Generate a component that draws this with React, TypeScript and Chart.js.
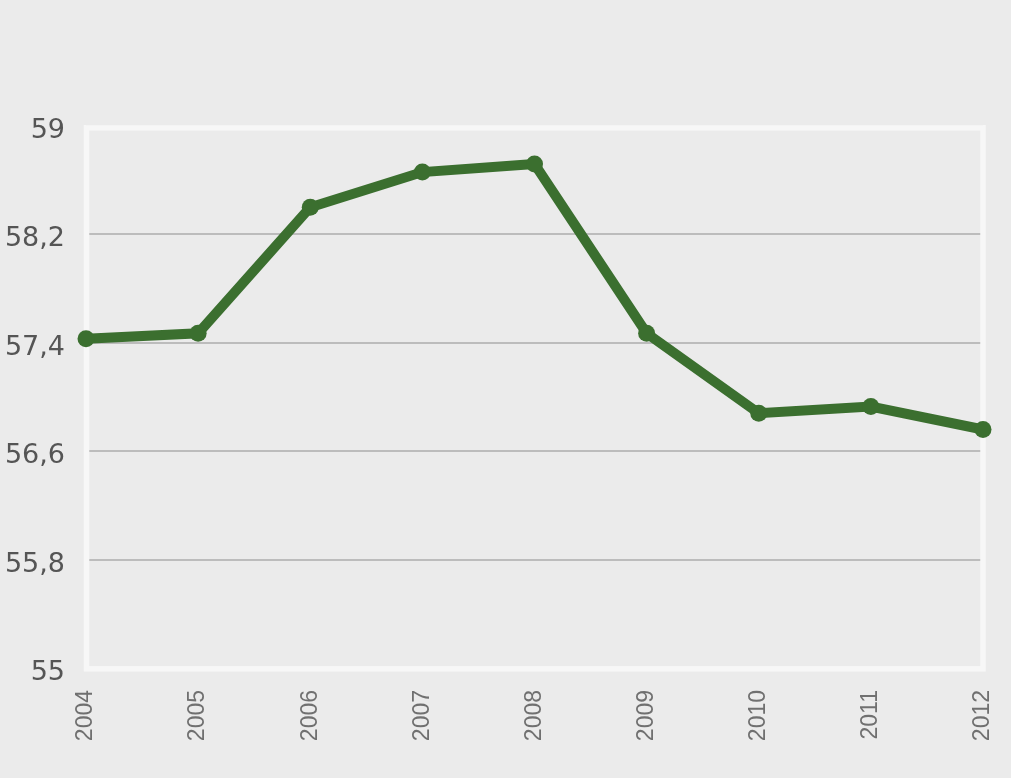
import React, { useEffect, useRef } from "react";
import { Chart, registerables } from "chart.js";

Chart.register(...registerables);

const years = ["2004", "2005", "2006", "2007", "2008", "2009", "2010", "2011", "2012"];
const values = [57.43, 57.47, 58.4, 58.66, 58.72, 57.47, 56.88, 56.93, 56.76];
const yTicks = [55, 55.8, 56.6, 57.4, 58.2, 59];

const BG = "#ebebeb";
const LINE = "#3b6f2f";

const bgPlugin = {
  id: "bgFrame",
  beforeDraw(chart: any) {
    const { ctx, width, height } = chart;
    ctx.save();
    ctx.fillStyle = BG;
    ctx.fillRect(0, 0, width, height);
    ctx.restore();
  },
  beforeDatasetsDraw(chart: any) {
    const { ctx, chartArea: ca } = chart;
    ctx.save();
    ctx.strokeStyle = "#f7f7f7";
    ctx.lineWidth = 5.5;
    const l = ca.left + 0.5;
    const t = ca.top + 1.8;
    const r = ca.right;
    const b = ca.bottom + 0.8;
    ctx.strokeRect(l, t, r - l, b - t);
    ctx.restore();
  },
};

export default function App() {
  const ref = useRef<HTMLCanvasElement>(null);
  useEffect(() => {
    if (!ref.current) return;
    const chart = new Chart(ref.current, {
      type: "line",
      data: {
        labels: years,
        datasets: [
          {
            data: values,
            borderColor: LINE,
            backgroundColor: LINE,
            borderWidth: 10,
            pointRadius: 8.5,
            pointHoverRadius: 8.5,
            pointBorderWidth: 0,
            pointBackgroundColor: LINE,
            tension: 0,
            clip: false as any,
          },
        ],
      },
      options: {
        animation: false,
        responsive: false,
        maintainAspectRatio: false,
        layout: { padding: { top: 126, right: 28, left: 0, bottom: 0 } },
        plugins: { legend: { display: false }, tooltip: { enabled: false } },
        scales: {
          x: {
            offset: false,
            grid: { display: false, drawTicks: false },
            border: { display: false },
            afterFit(scale: any) {
              scale.height = 110;
              scale.paddingLeft = 0;
              scale.paddingRight = 0;
            },
            ticks: {
              minRotation: 90,
              maxRotation: 90,
              padding: 22,
              color: "#707070",
              font: { family: "Liberation Sans", size: 23 },
            },
          },
          y: {
            min: 55,
            max: 59,
            afterBuildTicks(scale: any) {
              scale.ticks = yTicks.map((v) => ({ value: v }));
            },
            afterFit(scale: any) {
              scale.width = 86;
              scale.paddingTop = 0;
              scale.paddingBottom = 0;
            },
            grid: { color: "#bcbcbc", lineWidth: 2, drawTicks: false },
            border: { display: false },
            ticks: {
              padding: 21,
              labelOffset: 5,
              color: "#555555",
              font: { family: "DejaVu Sans", size: 27 },
              callback: (v: any) => String(Math.round(Number(v) * 10) / 10).replace(".", ","),
            },
          },
        },
      },
      plugins: [bgPlugin],
    });
    return () => chart.destroy();
  }, []);
  return (
    <div style={{ position: "fixed", left: 0, top: 0, width: 1011, height: 778, background: BG }}>
      <canvas ref={ref} width={1011} height={778} style={{ display: "block", width: 1011, height: 778 }} />
    </div>
  );
}
